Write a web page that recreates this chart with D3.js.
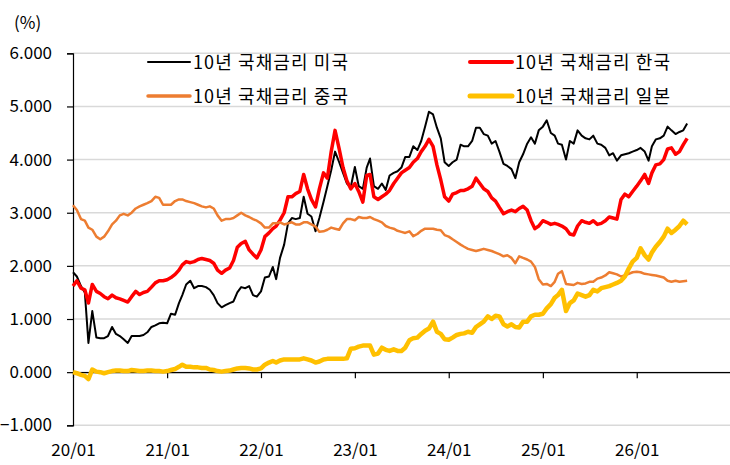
<!DOCTYPE html>
<html>
<head>
<meta charset="utf-8">
<script src="https://cdn.jsdelivr.net/npm/d3@7"></script>
<style>
  body { margin: 0; background: #fff; }
  svg text { font-family: "Noto Sans CJK KR", "Noto Sans", sans-serif; fill: #000; }
</style>
</head>
<body>
<svg id="chart"></svg>
<script>
// semi-monthly readings (1st and 16th of each month), 2020/01 .. 2026/07
var usYield = [
  1.88,1.80,1.62,1.50,0.55,1.15,0.65,0.64,0.64,0.68,0.85,0.72,0.68,0.62,0.55,0.68,0.68,0.68,0.70,0.75,0.85,0.88,0.92,0.93,
  0.92,1.10,1.08,1.30,1.45,1.65,1.72,1.58,1.62,1.62,1.60,1.55,1.45,1.30,1.22,1.26,1.30,1.33,1.50,1.60,1.58,1.62,1.45,1.42,
  1.52,1.78,1.80,1.98,1.75,2.15,2.40,2.80,2.90,2.88,2.90,3.30,2.98,2.93,2.65,2.90,3.20,3.50,3.80,4.15,3.95,3.75,3.55,3.48,
  3.86,3.50,3.45,3.85,4.02,3.50,3.45,3.55,3.43,3.70,3.75,3.78,3.85,4.05,4.05,4.25,4.18,4.35,4.62,4.90,4.85,4.60,4.40,3.95,
  3.88,3.95,4.00,4.28,4.25,4.25,4.35,4.60,4.60,4.48,4.45,4.30,4.35,4.15,3.92,3.88,3.82,3.65,3.95,4.10,4.30,4.42,4.30,4.55,
  4.62,4.74,4.50,4.45,4.30,4.28,4.00,4.35,4.30,4.55,4.45,4.40,4.38,4.45,4.30,4.28,4.22,4.08,4.12,3.98,4.08,4.10,4.12,4.15,
  4.18,4.22,4.15,3.98,4.25,4.38,4.40,4.45,4.62,4.55,4.48,4.52,4.55,4.68
];
var krYield = [
  1.62,1.72,1.58,1.55,1.30,1.65,1.52,1.48,1.42,1.38,1.45,1.40,1.38,1.35,1.32,1.42,1.52,1.46,1.50,1.52,1.60,1.68,1.72,1.72,
  1.74,1.78,1.84,1.92,2.02,2.08,2.06,2.08,2.12,2.14,2.12,2.10,2.05,1.92,1.86,1.92,1.96,2.10,2.35,2.42,2.46,2.30,2.22,2.15,
  2.30,2.55,2.62,2.70,2.75,2.86,3.00,3.30,3.30,3.36,3.40,3.72,3.45,3.25,3.11,3.45,3.75,3.65,4.15,4.55,4.20,3.85,3.60,3.45,
  3.55,3.40,3.20,3.70,3.72,3.30,3.25,3.30,3.35,3.42,3.55,3.65,3.75,3.80,3.85,3.95,4.02,4.15,4.25,4.38,4.25,3.90,3.62,3.30,
  3.22,3.35,3.38,3.42,3.42,3.45,3.50,3.65,3.55,3.45,3.40,3.28,3.22,3.10,2.98,3.02,3.05,3.02,3.08,3.12,3.05,2.85,2.70,2.75,
  2.85,2.82,2.78,2.80,2.78,2.75,2.70,2.60,2.58,2.75,2.85,2.82,2.80,2.85,2.78,2.80,2.85,2.92,2.90,2.88,3.25,3.35,3.30,3.40,
  3.50,3.60,3.72,3.55,3.75,3.90,3.92,4.00,4.20,4.22,4.10,4.15,4.28,4.40
];
var cnYield = [
  3.14,3.05,2.88,2.85,2.72,2.68,2.55,2.50,2.55,2.65,2.78,2.85,2.95,2.98,2.95,3.00,3.08,3.12,3.15,3.18,3.22,3.30,3.28,3.15,
  3.15,3.15,3.22,3.25,3.25,3.22,3.20,3.18,3.15,3.12,3.10,3.12,3.08,2.95,2.85,2.88,2.88,2.90,2.95,3.00,2.95,2.92,2.88,2.85,
  2.80,2.72,2.72,2.80,2.80,2.82,2.78,2.80,2.82,2.78,2.78,2.82,2.82,2.78,2.74,2.64,2.65,2.68,2.72,2.70,2.68,2.80,2.88,2.88,
  2.86,2.92,2.90,2.90,2.92,2.88,2.85,2.82,2.75,2.72,2.70,2.66,2.64,2.62,2.65,2.56,2.60,2.66,2.70,2.70,2.70,2.68,2.67,2.58,
  2.55,2.50,2.45,2.40,2.36,2.32,2.30,2.28,2.30,2.32,2.30,2.28,2.25,2.22,2.18,2.20,2.15,2.05,2.18,2.15,2.12,2.08,1.98,1.75,
  1.65,1.66,1.62,1.70,1.85,1.90,1.66,1.65,1.64,1.68,1.66,1.67,1.70,1.70,1.76,1.78,1.82,1.88,1.86,1.84,1.80,1.82,1.85,1.88,
  1.89,1.88,1.85,1.84,1.83,1.82,1.80,1.78,1.72,1.70,1.72,1.70,1.71,1.72
];
var jpYield = [
  0.00,-0.02,-0.05,-0.07,-0.13,0.05,0.01,0.00,-0.02,0.00,0.02,0.03,0.03,0.02,0.02,0.04,0.03,0.02,0.02,0.03,0.03,0.02,0.02,0.01,
  0.02,0.04,0.06,0.10,0.14,0.10,0.10,0.09,0.09,0.08,0.08,0.05,0.04,0.02,0.01,0.02,0.03,0.05,0.07,0.08,0.08,0.07,0.05,0.05,
  0.07,0.14,0.18,0.21,0.18,0.22,0.24,0.24,0.24,0.24,0.24,0.26,0.24,0.22,0.18,0.20,0.24,0.25,0.25,0.25,0.25,0.25,0.26,0.44,
  0.45,0.48,0.50,0.50,0.50,0.33,0.35,0.46,0.42,0.40,0.43,0.40,0.40,0.46,0.60,0.64,0.65,0.72,0.78,0.82,0.95,0.76,0.72,0.62,
  0.61,0.65,0.70,0.72,0.73,0.76,0.74,0.85,0.90,0.95,1.05,1.00,1.06,1.05,0.90,0.86,0.90,0.85,0.84,0.95,0.95,1.05,1.08,1.08,
  1.10,1.20,1.28,1.40,1.45,1.55,1.15,1.30,1.35,1.48,1.45,1.42,1.45,1.55,1.52,1.58,1.60,1.62,1.65,1.68,1.72,1.80,1.95,2.08,
  2.15,2.33,2.20,2.12,2.25,2.36,2.45,2.55,2.70,2.62,2.68,2.75,2.85,2.78
];

var seriesNames = ["10년 국채금리 미국", "10년 국채금리 한국", "10년 국채금리 중국", "10년 국채금리 일본"];
var xTickLabels = ["20/01", "21/01", "22/01", "23/01", "24/01", "25/01", "26/01"];
var yTicks = [-1, 0, 1, 2, 3, 4, 5, 6];

// observation dates: 1st and 16th of each month
var dates = usYield.map(function(d, i) {
  return new Date(2020, Math.floor(i / 2), i % 2 ? 16 : 1);
});

var width = 730, height = 465;
var svg = d3.select("#chart").attr("width", width).attr("height", height);

var x = d3.scaleTime()
    .domain([new Date(2020, 0, 1), new Date(2027, 0, 1)])
    .range([73, 730.6]);
var y = d3.scaleLinear()
    .domain([-1, 6])
    .range([425.3, 53.3]);

// gridlines
svg.append("g")
  .selectAll("line")
  .data(yTicks)
  .enter().append("line")
    .attr("x1", 73).attr("x2", width)
    .attr("y1", function(d) { return y(d); })
    .attr("y2", function(d) { return y(d); })
    .attr("stroke", "#d9d9d9")
    .attr("stroke-width", 1.5);

// y axis
var yAxis = svg.append("g")
    .attr("transform", "translate(73,0)")
    .call(d3.axisLeft(y).tickValues(yTicks).tickSize(6).tickPadding(15)
      .tickFormat(d3.format(".3f")));
yAxis.select(".domain").attr("stroke", "#000").attr("stroke-width", 1.2);
yAxis.selectAll(".tick line").attr("stroke", "#000").attr("stroke-width", 1.2);
yAxis.selectAll("text")
    .style("font-size", "17px")
    .style("font-family", "'Noto Sans CJK KR', sans-serif")
    .attr("fill", "#000");

// x axis on the zero line
var xAxis = svg.append("g")
    .attr("transform", "translate(0," + y(0) + ")")
    .call(d3.axisBottom(x)
      .tickValues(xTickLabels.map(function(d, i) { return new Date(2020 + i, 0, 1); }))
      .tickSize(6).tickSizeOuter(0)
      .tickFormat(function(d, i) { return xTickLabels[i]; }));
xAxis.select(".domain").attr("stroke", "#000").attr("stroke-width", 1.2);
xAxis.selectAll(".tick line").attr("stroke", "#000").attr("stroke-width", 1.2);
xAxis.selectAll("text")
    .attr("y", y(-1) - y(0) + 19)
    .style("font-size", "17px")
    .style("font-family", "'Noto Sans CJK KR', sans-serif")
    .attr("fill", "#000");

// unit label
svg.append("text")
    .attr("x", 14).attr("y", 29)
    .style("font-size", "17px")
    .text("(%)");

// series
var series = [
  {name: seriesNames[0], values: usYield, color: "#000000", width: 2, key: 2},
  {name: seriesNames[1], values: krYield, color: "#ff0000", width: 3.5, key: 4},
  {name: seriesNames[2], values: cnYield, color: "#ed7d31", width: 2.5, key: 3.5},
  {name: seriesNames[3], values: jpYield, color: "#ffc000", width: 4.5, key: 5}
];

var line = d3.line()
    .x(function(d, i) { return x(dates[i]); })
    .y(function(d) { return y(d); });

svg.append("g")
  .selectAll("path")
  .data(series)
  .enter().append("path")
    .attr("d", function(s) { return line(s.values); })
    .attr("fill", "none")
    .attr("stroke", function(s) { return s.color; })
    .attr("stroke-width", function(s) { return s.width; })
    .attr("stroke-linejoin", "round");

// legend: two columns, two rows
var legendPos = [[148, 62], [470, 62], [148, 96], [470, 96]];
var legend = svg.append("g")
  .selectAll("g")
  .data(series)
  .enter().append("g")
    .attr("transform", function(s, i) { return "translate(" + legendPos[i][0] + "," + legendPos[i][1] + ")"; });
legend.append("line")
    .attr("x1", 0).attr("x2", 42)
    .attr("stroke", function(s) { return s.color; })
    .attr("stroke-width", function(s) { return s.key; })
    .attr("stroke-linecap", "round");
legend.append("text")
    .attr("x", 45).attr("y", 6.5)
    .attr("textLength", 155)
    .attr("lengthAdjust", "spacing")
    .style("font-size", "18px")
    .text(function(s) { return s.name; });
</script>
</body>
</html>
